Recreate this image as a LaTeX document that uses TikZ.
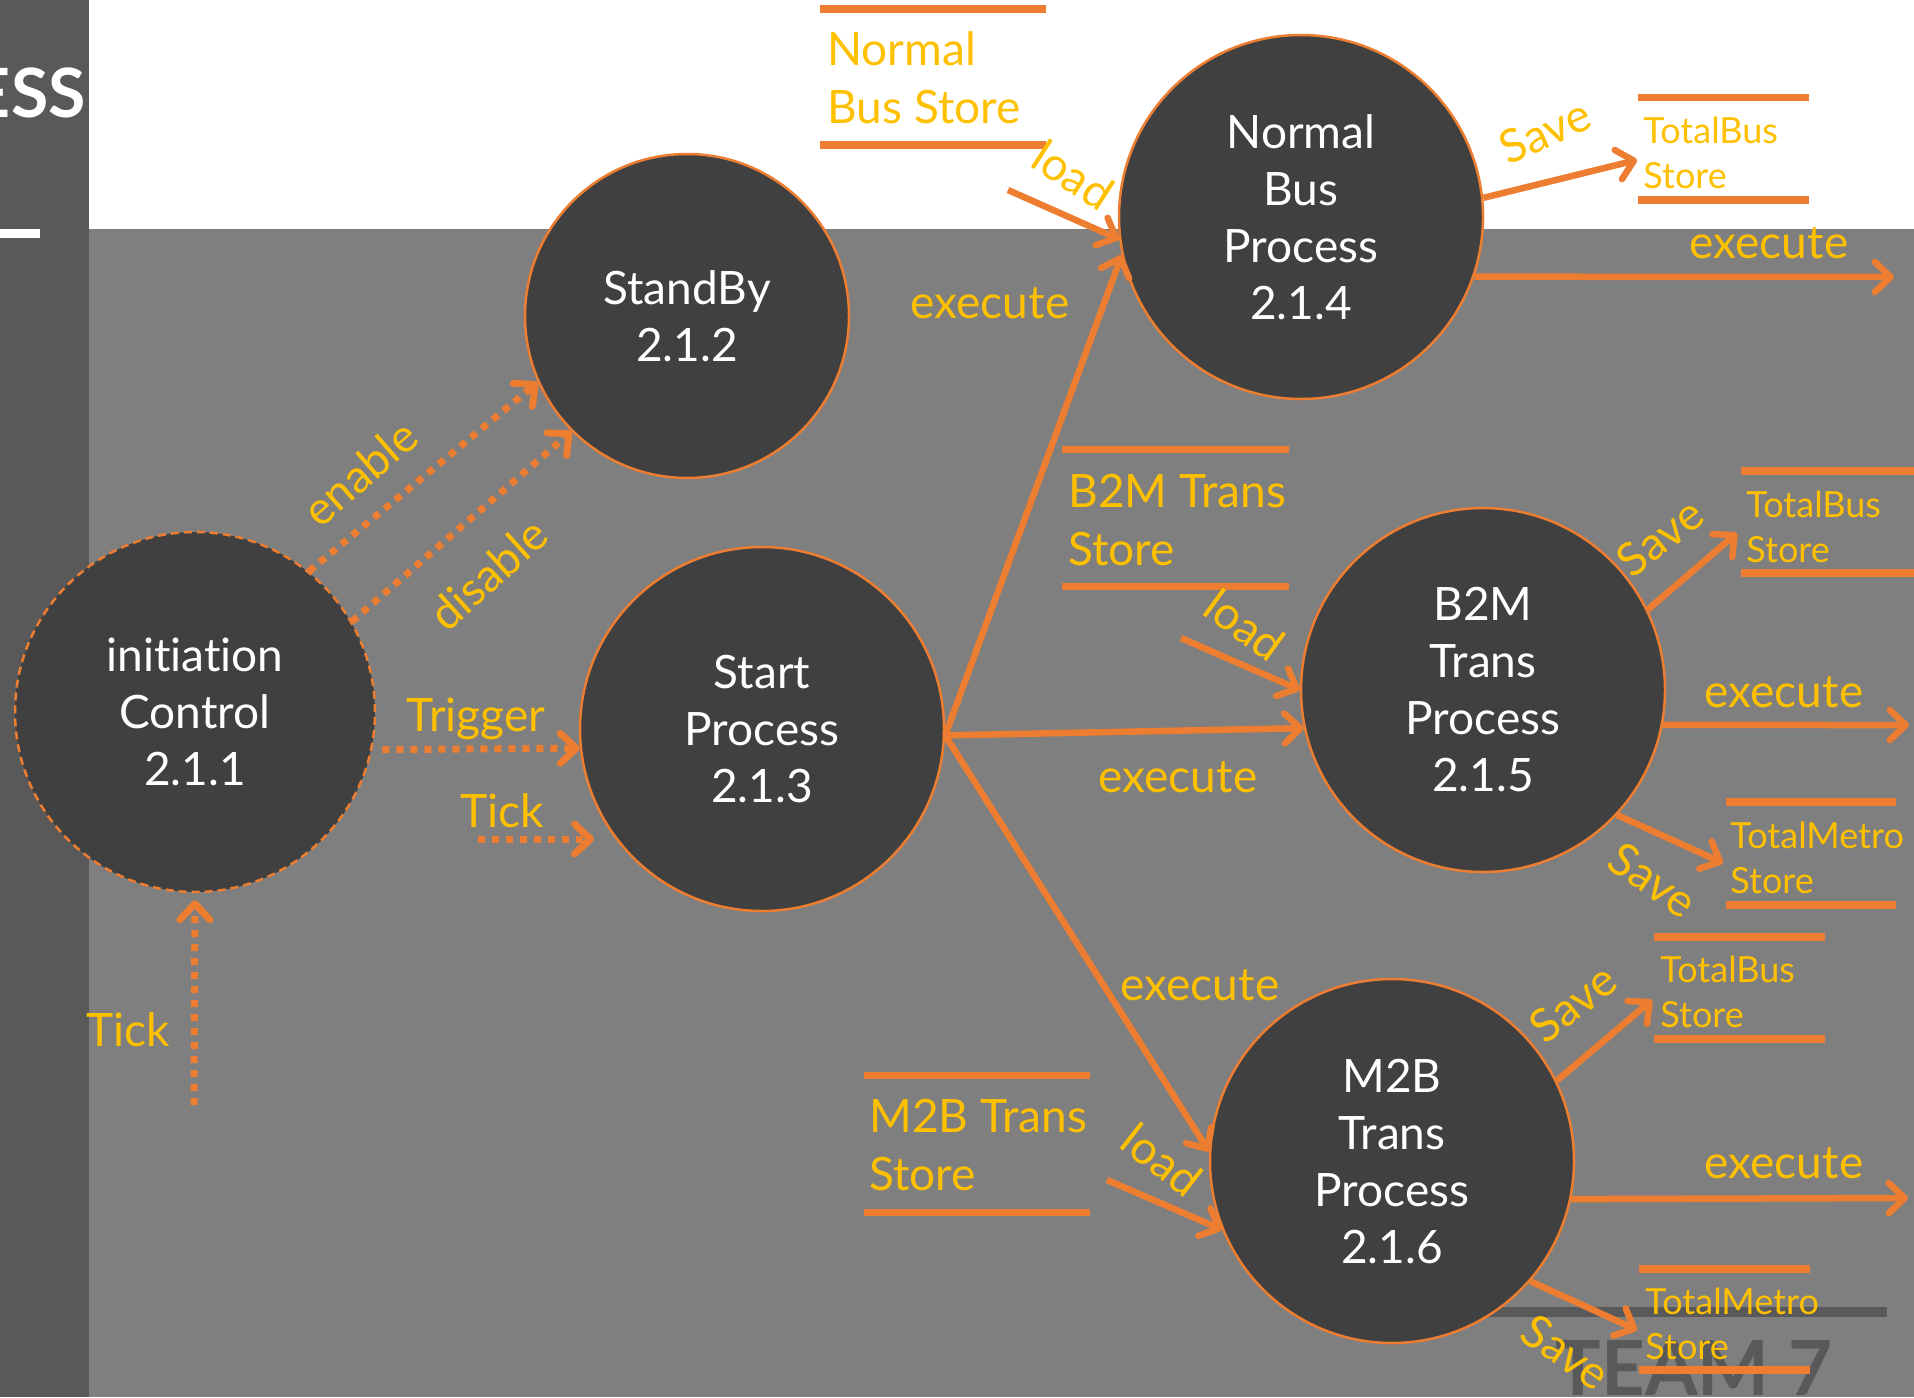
\documentclass[tikz,border=0pt]{standalone}
\usepackage{fontspec}
\setmainfont{Lato}[Ligatures=NoCommon]
\usetikzlibrary{arrows.meta}
\definecolor{bgrey}{HTML}{7F7F7F}
\definecolor{dgrey}{HTML}{595959}
\definecolor{cgrey}{HTML}{404040}
\definecolor{orng}{HTML}{ED7D31}
\definecolor{gold}{HTML}{FFC000}
\begin{document}
\begin{tikzpicture}[x=0.5pt,y=-0.5pt]
        \tikzstyle{proc}=[circle,fill=cgrey,draw=orng,line width=1.25pt,inner sep=0pt,minimum size=182pt,text=white,align=center,font=\fontsize{23}{28.5}\selectfont]
        \tikzstyle{lbl}=[text=gold,inner sep=0pt,font=\fontsize{23}{28}\selectfont]
        \tikzstyle{store}=[text=gold,inner sep=0pt,anchor=base west,align=left,font=\fontsize{23}{29}\selectfont]
        \tikzstyle{small store}=[store,font=\fontsize{18}{22.5}\selectfont]
        \tikzstyle{bar}=[orng,line width=3.75pt]
        \tikzstyle{flow}=[orng,line width=3.25pt,-{Straight Barb[length=8pt,width=15pt,round]}]
        \tikzstyle{ctrl}=[flow,line width=3.5pt,dash pattern=on 3.5pt off 3.5pt]
        \useasboundingbox (0,0) rectangle (1914,1397);
        \fill[bgrey] (0,0) rectangle (1914,1397);
        \fill[white] (89,0) rectangle (1914,229);
        \fill[dgrey] (0,0) rectangle (89,1397);
        \fill[white] (0,229) rectangle (40,238);
        \node[anchor=base east,text=white,inner sep=0pt,font=\bfseries\fontsize{34}{34}\selectfont] (ttl) at (86,117) {ESS};
        \draw[dgrey,line width=5pt] (1450,1312) -- (1887,1312);
        \node[anchor=base,text=dgrey,inner sep=0pt,font=\bfseries\fontsize{38}{38}\selectfont] (team) at (1694,1395) {TEAM 7};

        \node[proc,minimum size=180pt,dash pattern=on 4pt off 2.5pt] (ic) at (195,712) {initiation\\Control\\2.1.1};
        \node[proc,minimum size=162pt] (sb) at (687,316) {StandBy\\2.1.2};
        \node[proc] (sp) at (762,729) {Start\\Process\\2.1.3};
        \node[proc] (nb) at (1301,217) {Normal\\Bus\\Process\\2.1.4};
        \node[proc] (bm) at (1483,690) {B2M\\Trans\\Process\\2.1.5};
        \node[proc] (mb) at (1392,1161) {M2B\\Trans\\Process\\2.1.6};

        \draw[bar] (820,9) -- (1046,9) (820,145) -- (1046,145);
        \node[store] (nbs) at (827,123) {Normal\\Bus Store};
        \draw[bar] (1062,449.5) -- (1289,449.5) (1062,586.5) -- (1289,586.5);
        \node[store] (bms) at (1068,565) {B2M Trans\\Store};
        \draw[bar] (864,1075.5) -- (1090,1075.5) (864,1212.5) -- (1090,1212.5);
        \node[store] (mbs) at (869,1190) {M2B Trans\\Store};
        \draw[bar] (1638,97.5) -- (1809,97.5) (1638,200) -- (1809,200);
        \node[small store] (tb1) at (1643,188) {TotalBus\\Store};
        \draw[bar] (1741,471) -- (1914,471) (1741,573) -- (1914,573);
        \node[small store] (tb2) at (1746,562) {TotalBus\\Store};
        \draw[bar] (1726,802) -- (1896,802) (1726,905) -- (1896,905);
        \node[small store] (tm1) at (1730,893) {TotalMetro\\Store};
        \draw[bar] (1654,937) -- (1825,937) (1654,1039) -- (1825,1039);
        \node[small store] (tb3) at (1660,1027) {TotalBus\\Store};
        \draw[bar] (1639,1269) -- (1810,1269) (1639,1370) -- (1810,1370);
        \node[small store] (tm2) at (1645,1359) {TotalMetro\\Store};

        \coordinate (tk0) at (194,1105);
        \coordinate (tk1) at (478,839);
        \coordinate (tk2) at (594,839);
        \coordinate (ld1) at (1008,190);
        \coordinate (ld2) at (1181,638);
        \coordinate (ld3) at (1107,1180);
        \coordinate (sv1) at (1637,160);
        \coordinate (sv2) at (1737,533);
        \coordinate (sv3) at (1723,863);
        \coordinate (sv4) at (1652,1000);
        \coordinate (sv5) at (1637,1330);
        \coordinate (ex1) at (1894,277);
        \coordinate (ex2) at (1909,725);
        \coordinate (ex3) at (1908,1198);

        \draw[ctrl,shorten >=3.5pt] (tk0) -- (ic.south);
        \draw[ctrl,shorten <=5pt] (ic.-12) -- (sp.186);
        \draw[ctrl] (tk1) -- (tk2);
        \draw[ctrl] (ic.51) -- (sb.204);
        \draw[ctrl] (ic.30) -- (sb.225);
        \draw[flow] (sp.-2) -- (nb.192);
        \draw[flow] (sp.-2) -- (bm.192);
        \draw[flow] (sp.-2) -- (mb.177);
        \draw[flow] (ld1) -- (nb.187);
        \draw[flow] (ld2) -- (bm.180);
        \draw[flow] (ld3) -- (mb.202);
        \draw[flow] (nb.6) -- (sv1);
        \draw[flow] (bm.26) -- (sv2);
        \draw[flow] (bm.-43) -- (sv3);
        \draw[flow] (mb.26) -- (sv4);
        \draw[flow] (mb.-41) -- (sv5);
        \draw[flow] (nb.-19) -- (ex1);
        \draw[flow] (bm.-11) -- (ex2);
        \draw[flow] (mb.-12) -- (ex3);

        \node[lbl,anchor=base] (t0) at (128,1046) {Tick};
        \node[lbl,anchor=base] (trg) at (476,731) {Trigger};
        \node[lbl,anchor=base] (t1) at (502,827) {Tick};
        \node[lbl,rotate=41] (en) at (360,473) {enable};
        \node[lbl,rotate=42] (dis) at (488,574) {disable};
        \node[lbl,anchor=base] (e1) at (990,318) {execute};
        \node[lbl,anchor=base] (e2) at (1178,792) {execute};
        \node[lbl,anchor=base] (e3) at (1200,1000) {execute};
        \node[lbl,rotate=-33] (l1) at (1073,175) {load};
        \node[lbl,rotate=-36] (l2) at (1245,625) {load};
        \node[lbl,rotate=-38] (l3) at (1162,1160) {load};
        \node[lbl,rotate=24] (s1) at (1545,131) {Save};
        \node[lbl,rotate=38] (s2) at (1660,537) {Save};
        \node[lbl,rotate=-35] (s3) at (1653,880) {Save};
        \node[lbl,rotate=38] (s4) at (1573,1003) {Save};
        \node[lbl,rotate=-35] (s5) at (1566,1352) {Save};
        \node[lbl,anchor=base] (e4) at (1769,258) {execute};
        \node[lbl,anchor=base] (e5) at (1784,707) {execute};
        \node[lbl,anchor=base] (e6) at (1784,1178) {execute};
    \end{tikzpicture}
\end{document}
